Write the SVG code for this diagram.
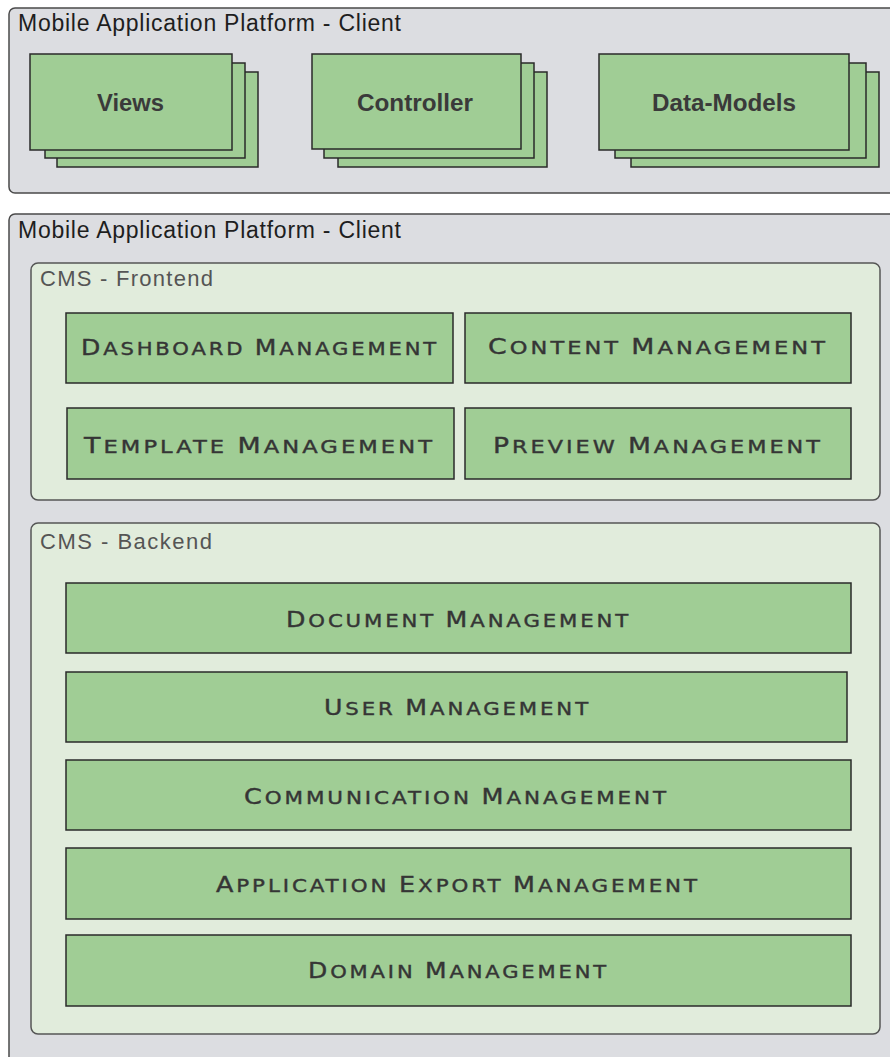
<svg xmlns="http://www.w3.org/2000/svg" width="890" height="1057" viewBox="0 0 890 1057">
  <style>
    .platform { fill: #dcdde1; stroke: #4a4a4a; stroke-width: 1.5; }
    .tier { fill: #e1ecdc; stroke: #555; stroke-width: 1.5; }
    .box { fill: #a0cd95; stroke: #2a2a2a; stroke-width: 1.5; }
    .title { font-family: "Liberation Sans", Arial, sans-serif; font-size: 23px; fill: #1e1e1e; }
    .subtitle { font-family: "Liberation Sans", Arial, sans-serif; font-size: 22px; fill: #555; }
    .layer { font-family: "Liberation Sans", Arial, sans-serif; font-size: 23.5px; font-weight: bold; fill: #3a3a3a; text-anchor: middle; }
    .module { font-family: "DejaVu Sans", "Liberation Sans", sans-serif; fill: #353535; stroke: #353535; stroke-width: 0.4; text-anchor: middle; letter-spacing: 2.5px; }
    .cap { font-size: 22px; }
    .sc { font-size: 18.5px; }
  </style>

  <!-- Client platform -->
  <g id="client-platform">
    <rect class="platform" x="9" y="8" width="900" height="185" rx="6"/>
    <text class="title" x="18" y="31" textLength="383" lengthAdjust="spacing">Mobile Application Platform - Client</text>
  </g>

  <g id="views">
    <rect class="box" x="57" y="72" width="201" height="95"/>
    <rect class="box" x="45" y="63" width="200" height="95"/>
    <rect class="box" x="30" y="54" width="202" height="96"/>
    <text class="layer" x="130.5" y="111" textLength="67" lengthAdjust="spacingAndGlyphs">Views</text>
  </g>

  <g id="controller">
    <rect class="box" x="338" y="72" width="209" height="95"/>
    <rect class="box" x="324" y="63" width="210" height="95"/>
    <rect class="box" x="312" y="54" width="209" height="95"/>
    <text class="layer" x="415" y="111" textLength="116" lengthAdjust="spacingAndGlyphs">Controller</text>
  </g>

  <g id="data-models">
    <rect class="box" x="631" y="72" width="248" height="95"/>
    <rect class="box" x="615" y="63" width="251" height="95"/>
    <rect class="box" x="599" y="54" width="250" height="96"/>
    <text class="layer" x="724" y="111" textLength="144" lengthAdjust="spacingAndGlyphs">Data-Models</text>
  </g>

  <!-- CMS platform -->
  <g id="cms-platform">
    <rect class="platform" x="9" y="214" width="900" height="900" rx="6"/>
    <text class="title" x="18" y="238" textLength="383" lengthAdjust="spacing">Mobile Application Platform - Client</text>
  </g>

  <g id="cms-frontend">
    <rect class="tier" x="31" y="263" width="849" height="237" rx="7"/>
    <text class="subtitle" x="40" y="286" textLength="173" lengthAdjust="spacing">CMS - Frontend</text>
  </g>

  <g id="dashboard-management">
    <rect class="box" x="66" y="313" width="387" height="70"/>
    <text class="module" x="260" y="355" textLength="358" lengthAdjust="spacingAndGlyphs"><tspan class="cap">D</tspan><tspan class="sc">ASHBOARD </tspan><tspan class="cap">M</tspan><tspan class="sc">ANAGEMENT</tspan></text>
  </g>

  <g id="content-management">
    <rect class="box" x="465" y="313" width="386" height="70"/>
    <text class="module" x="658" y="354" textLength="340" lengthAdjust="spacingAndGlyphs"><tspan class="cap">C</tspan><tspan class="sc">ONTENT </tspan><tspan class="cap">M</tspan><tspan class="sc">ANAGEMENT</tspan></text>
  </g>

  <g id="template-management">
    <rect class="box" x="67" y="408" width="387" height="71"/>
    <text class="module" x="259.5" y="453" textLength="351" lengthAdjust="spacingAndGlyphs"><tspan class="cap">T</tspan><tspan class="sc">EMPLATE </tspan><tspan class="cap">M</tspan><tspan class="sc">ANAGEMENT</tspan></text>
  </g>

  <g id="preview-management">
    <rect class="box" x="465" y="408" width="386" height="71"/>
    <text class="module" x="658" y="453" textLength="330" lengthAdjust="spacingAndGlyphs"><tspan class="cap">P</tspan><tspan class="sc">REVIEW </tspan><tspan class="cap">M</tspan><tspan class="sc">ANAGEMENT</tspan></text>
  </g>

  <g id="cms-backend">
    <rect class="tier" x="31" y="523" width="849" height="511" rx="7"/>
    <text class="subtitle" x="40" y="549" textLength="172" lengthAdjust="spacing">CMS - Backend</text>
  </g>

  <g id="document-management">
    <rect class="box" x="66" y="583" width="785" height="70"/>
    <text class="module" x="458.5" y="626.5" textLength="345" lengthAdjust="spacingAndGlyphs"><tspan class="cap">D</tspan><tspan class="sc">OCUMENT </tspan><tspan class="cap">M</tspan><tspan class="sc">ANAGEMENT</tspan></text>
  </g>

  <g id="user-management">
    <rect class="box" x="66" y="672" width="781" height="70"/>
    <text class="module" x="457.5" y="715" textLength="267" lengthAdjust="spacingAndGlyphs"><tspan class="cap">U</tspan><tspan class="sc">SER </tspan><tspan class="cap">M</tspan><tspan class="sc">ANAGEMENT</tspan></text>
  </g>

  <g id="communication-management">
    <rect class="box" x="66" y="760" width="785" height="70"/>
    <text class="module" x="456.5" y="804" textLength="425" lengthAdjust="spacingAndGlyphs"><tspan class="cap">C</tspan><tspan class="sc">OMMUNICATION </tspan><tspan class="cap">M</tspan><tspan class="sc">ANAGEMENT</tspan></text>
  </g>

  <g id="application-export-management">
    <rect class="box" x="66" y="848" width="785" height="71"/>
    <text class="module" x="458" y="892" textLength="484" lengthAdjust="spacingAndGlyphs"><tspan class="cap">A</tspan><tspan class="sc">PPLICATION </tspan><tspan class="cap">E</tspan><tspan class="sc">XPORT </tspan><tspan class="cap">M</tspan><tspan class="sc">ANAGEMENT</tspan></text>
  </g>

  <g id="domain-management">
    <rect class="box" x="66" y="935" width="785" height="71"/>
    <text class="module" x="458.5" y="978" textLength="301" lengthAdjust="spacingAndGlyphs"><tspan class="cap">D</tspan><tspan class="sc">OMAIN </tspan><tspan class="cap">M</tspan><tspan class="sc">ANAGEMENT</tspan></text>
  </g>

  <!-- no connectors in this layered view -->
  <g id="connectors"/>
</svg>
